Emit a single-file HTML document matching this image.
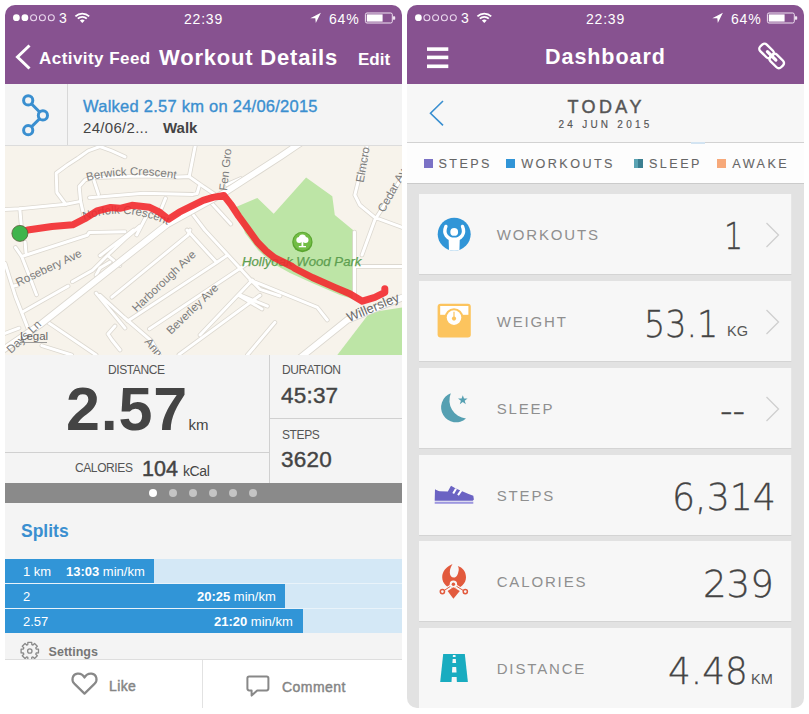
<!DOCTYPE html>
<html><head><meta charset="utf-8">
<style>
*{margin:0;padding:0;box-sizing:border-box}
html,body{width:809px;height:714px;overflow:hidden;background:#fff}
body{position:relative;font-family:"Liberation Sans",Arial,sans-serif}
.a{position:absolute}
.panel{position:absolute;top:5px;width:397px;height:703px;overflow:hidden;border-radius:10px 10px 0 0}
#L{left:5px;background:#fff}
#R{left:407px;background:#e2e2e2;border-radius:10px 10px 10px 10px}
.hdr{position:absolute;left:0;top:0;width:397px;height:79px;background:#875290;color:#fff}
.t{position:absolute;white-space:nowrap;line-height:1}
.w{color:#fff}
.lbl{font-size:12px;color:#555;letter-spacing:-0.4px}
.card{position:absolute;left:12px;width:373px;height:81px;background:#f7f7f7;border-bottom:1px solid #d4d4d4;border-right:1px solid #e6e6e6}
.cl{position:absolute;left:77.7px;top:33.3px;font-size:15px;color:#8f8f8f;letter-spacing:1.85px;line-height:1}
.cv{position:absolute;font-family:"DejaVu Sans",sans-serif;font-weight:200;color:#444;-webkit-text-stroke:0.3px #444;line-height:1;white-space:nowrap;font-size:37.5px;transform-origin:0 0}
.chev{position:absolute;left:346px;top:28px}
.leg{position:absolute;top:152.6px;font-size:12.6px;color:#666;letter-spacing:2.45px;-webkit-text-stroke:0.1px #666;line-height:1;white-space:nowrap}
.sq{position:absolute;top:153.6px;width:9px;height:9px}
</style></head><body>

<!-- ================= LEFT PANEL ================= -->
<div id="L" class="panel">
  <div class="hdr">
    <svg class="a" style="left:0;top:0" width="397" height="30" viewBox="5 5 397 30">
      <g fill="#fff"><circle cx="16.4" cy="17.7" r="3.4"/><circle cx="24.9" cy="17.7" r="3.4"/></g>
      <g fill="none" stroke="#ead8ee" stroke-width="1.05"><circle cx="33.6" cy="17.7" r="3"/><circle cx="42.4" cy="17.7" r="3"/><circle cx="51.3" cy="17.7" r="3"/></g>
      <!-- wifi -->
      <g fill="none" stroke="#fff" stroke-width="1.8">
        <path d="M75.4 16.3 A10 10 0 0 1 89.2 16.3"/>
        <path d="M77.8 18.6 A6.6 6.6 0 0 1 86.8 18.6"/>
      </g>
      <path d="M79.9 20.6 A3.4 3.4 0 0 1 84.7 20.6 L82.3 23 Z" fill="#fff"/>
      <!-- location arrow -->
      <path d="M320.9 12.7 L310.3 18.3 L315.3 18.3 L315.8 23 Z" fill="#fff"/>
      <!-- battery -->
      <rect x="365.4" y="13" width="26.9" height="10" rx="1.6" fill="none" stroke="#f0e4f2" stroke-width="1"/>
      <rect x="366.8" y="14.4" width="15.8" height="7.2" fill="#fff"/>
      <rect x="392.8" y="16.2" width="2.4" height="3.6" rx="0.8" fill="#f0e4f2"/>
    </svg>
    <div class="t w" style="left:54px;top:6.3px;font-size:14px">3</div>
    <div class="t w" style="left:179px;top:6.5px;font-size:14px;letter-spacing:0.8px">22:39</div>
    <div class="t w" style="left:324px;top:6.5px;font-size:14px;letter-spacing:0.8px">64%</div>
    <!-- nav -->
    <svg class="a" style="left:0;top:30px" width="40" height="50" viewBox="5 35 40 50">
      <path d="M29.5 45.5 L17.5 57 L29.5 68.5" fill="none" stroke="#fff" stroke-width="3"/>
    </svg>
    <div class="t w" style="left:34px;top:45px;font-size:17px;font-weight:bold;letter-spacing:0.45px">Activity Feed</div>
    <div class="t w" style="left:154px;top:42px;font-size:22px;font-weight:bold;letter-spacing:0.8px">Workout Details</div>
    <div class="t w" style="left:353px;top:45.5px;font-size:17px;font-weight:bold">Edit</div>
  </div>
  <!-- header row -->
  <div class="a" style="left:0;top:79px;width:397px;height:61px;background:#f4f4f4"></div>
  <div class="a" style="left:62px;top:79px;width:1px;height:61px;background:#d8d8d8"></div>
  <svg class="a" style="left:0;top:79px" width="62" height="61" viewBox="5 84 62 61">
    <g fill="none" stroke="#3a8fd0" stroke-width="3">
      <circle cx="28.2" cy="100.4" r="4.6"/><circle cx="42.9" cy="115.4" r="4.6"/><circle cx="28.2" cy="130.2" r="4.6"/>
      <path d="M31.4 103.8 L39.6 112 M39.6 118.8 L31.4 126.9"/>
    </g>
  </svg>
  <div class="t" style="left:78px;top:93px;font-size:16.5px;color:#3a8fd0;letter-spacing:0.25px;-webkit-text-stroke:0.35px #3a8fd0">Walked 2.57 km on 24/06/2015</div>
  <div class="t" style="left:78px;top:115px;font-size:15px;color:#444;letter-spacing:0.3px">24/06/2...</div>
  <div class="t" style="left:158px;top:115px;font-size:15px;color:#444;font-weight:bold">Walk</div>

  <!-- map -->
  <svg class="a" style="left:0;top:140px" width="397" height="210" viewBox="5 145 397 210">
    <rect x="5" y="145" width="397" height="210" fill="#f7f3eb"/>
    <!-- parks -->
    <g fill="#bde5a6">
      <path d="M236 207 L257.4 197.9 L273.7 213.7 L306.1 177.5 L332.3 196.2 L334.8 214.9 L356 232.4 L356 300 L340 295 L312 283 L290 273 L272 263 L258 250 L245 233 Z"/>
      <path d="M337.3 355 L369.8 312.4 L402 307.4 L402 355 Z"/>
    </g>
    <!-- road outlines -->
    <g fill="none" stroke-linejoin="round" stroke-linecap="round">
      <g stroke="#dcd8d0" stroke-width="4.6">
        <path id="r1" d="M5 209.5 L19.8 208.8 L65.8 204.3 L80.6 201.4"/>
        <path id="r2" d="M65.8 204.3 L56.9 192.5 L56.2 173.2 L67.3 165 L77.7 158.3 L88.1 150.9 L99.9 146.5 L111.8 150.9 L125 156.9"/>
        <path id="r3" d="M80.6 201.4 L79.2 186.5 L85.1 179.9 L94 177.6 L140 176 L178 177.1 L189.2 176.6 L203.1 186.5 L214.9 194.4"/>
        <path id="r4" d="M80.6 201.4 L83.6 214.7 M94 180.6 L98.4 194 M89.5 197.7 L143.4 193.2 L192.9 194.4 L197.1 193.5 L199.1 186.5 M195.2 146 L189.2 176.6 M165.5 198.4 L161.5 208.3 M226.8 184.6 L240.6 178.6 M19.8 208.8 L21.3 225.8 M25.1 242.3 L26 252.8 M15.5 247.5 L21.6 256.3 L27.8 272 L36.5 294.8 M22.5 256.3 L87.3 235.3 L89.1 232.6 L125 231.8 M147 215 L136.7 235 M23.4 311.5 L41.8 301 L68.1 286.1 M72.4 281.7 L92.6 270.3 L108.4 254.5 L125 238.8 L140 226 M13.8 286 L18 285 M5 263.3 L15.5 296.6 L27.8 328.1 L29.5 335.1 M96.1 293.1 L125 328.1 M48.8 322.9 L96.1 355 M41.8 345.6 L71.6 355 M5 333.4 L19 328.1 M100 255.7 L133.6 230 M107.9 255.7 L119.8 265.6 M110 262 L100 268 L96.1 275 M111.9 297.2 L188 235 L190 230 M127.7 321 L216.7 262.6 L226.6 255.7 M149.4 328.9 L238.4 269.6 L250.3 261.6 M179 354.6 L260 295.3 M100 295.3 L123.7 317 L151.4 340.8 L159.3 355 M187 230 L216.7 262.6 M204.8 230 L250.3 279.4 L260 289.3 M238.4 295.3 L262 309 M115 326 L108 334 L112 340 L120 350 M211 202.4 L230.8 224.1 M191.2 212.2 L204.8 230 M367.3 145 L354.8 195 L359.8 205 L374.8 217.4 L402 227.4 M362 255 L374.8 220 L402 177.5 M354.8 266.4 L402 266.4 M354.5 232 L354.5 298 M250 280 L317.3 307.4 L327.3 320 M200 335 L252.4 280 M247.4 355 L274.9 322.4 M240 295 L267.4 306.2 M260 289.3 L280 296"/>
      </g>
      <g stroke="#fff" stroke-width="3">
        <use href="#r1"/><use href="#r2"/><use href="#r3"/><use href="#r4"/>
      </g>
      <g stroke="#dcd8d0" stroke-width="7.5">
        <path id="w1" d="M0 352 L40 324.7 L167.5 224.1 L224.8 192.5 L280 156.9 L302 142"/>
        <path id="w2" d="M299.9 358 L347.3 320 L405 296.5"/>
      </g>
      <g stroke="#fff" stroke-width="5.8"><use href="#w1"/><use href="#w2"/></g>
    </g>
    <!-- labels -->
    <g font-family="Liberation Sans, Arial, sans-serif" font-size="11.5" fill="#7c7c7c">
      <path id="pb" d="M87 181 Q134 170 183 180" fill="none"/><text><textPath href="#pb">Berwick Crescent</textPath></text>
      <text x="18.1" y="286.5" transform="rotate(-25.3 18.1 286.5)">Rosebery Ave</text>
      <text x="136.5" y="312.5" transform="rotate(-43.6 136.5 312.5)">Harborough Ave</text>
      <text x="171" y="335" transform="rotate(-44 171 335)">Beverley Ave</text>
      <text x="11" y="354" transform="rotate(-43 11 354)">Days Ln</text>
      <text x="144" y="342" transform="rotate(50 144 342)">Ann</text>
      <text x="227" y="191" transform="rotate(-84 227 191)">Fen Gro</text>
      <text x="363.5" y="183" transform="rotate(-80 363.5 183)">Elmcro</text>
      <text x="384" y="213" transform="rotate(-61 384 213)">Cedar Av</text>
      <path id="pn" d="M84 220 Q125 205 170 226" fill="none"/><text><textPath href="#pn">Norfolk Crescent</textPath></text>
      <text x="20" y="340.4" font-size="11.5" fill="#666">Legal</text>
      <rect x="20" y="342" width="27" height="0.8" fill="#888"/>
      <text x="349" y="322" transform="rotate(-22.6 349 322)" font-size="13" fill="#6a6a6a">Willersley</text>
      <text x="242" y="265.5" font-size="13.2" font-style="italic" fill="#5e9f50" stroke="#5e9f50" stroke-width="0.25">Hollyoak Wood Park</text>
    </g>
    <!-- park icon -->
    <circle cx="302.4" cy="242" r="10.2" fill="#5aa530"/>
    <circle cx="302.4" cy="241.5" r="9" fill="#72bd45"/>
    <g fill="#fff">
      <circle cx="302.4" cy="238" r="3.6"/><circle cx="299.3" cy="240" r="3"/><circle cx="305.5" cy="240" r="3"/>
      <rect x="301.5" y="240" width="1.8" height="6.5"/>
      <rect x="298.8" y="246" width="7.2" height="1.3"/>
    </g>
    <!-- route -->
    <path d="M20 233 L27.7 230 L51.9 226.5 L72.7 224.8 L84.8 218.7 L96.9 211 L110.7 207.5 L120 208.3 L131.9 205.3 L149.7 207.3 L159.6 212.2 L168.5 219.2 L179.3 212.2 L203.1 200.4 L213 197.4 L223.8 195.4 L230.8 204.3 L238.7 216.2 L248 229 L257.5 242.3 L266 251 L274.8 257.9 L292.1 266.5 L294.9 268.5 L312.4 277.5 L334.8 287.4 L349.8 293.7 L362.3 301.2 L374.8 297.4 L384.8 292.4 L384.8 288.7" fill="none" stroke="#f22a2f" stroke-width="7" stroke-linejoin="round" stroke-linecap="round" opacity="0.9"/>
    <!-- start dot -->
    <circle cx="19.9" cy="233.4" r="8" fill="#3fb44c" stroke="#5a5a3a" stroke-width="0.8"/>
    <rect x="5" y="145" width="397" height="1" fill="#dcdcdc"/>
  </svg>

  <!-- stats -->
  <div class="a" style="left:0;top:350px;width:397px;height:128px;background:#f4f4f4"></div>
  <div class="a" style="left:264px;top:350px;width:1px;height:128px;background:#d0d0d0"></div>
  <div class="a" style="left:0;top:447px;width:264px;height:1px;background:#d0d0d0"></div>
  <div class="a" style="left:265px;top:413px;width:132px;height:1px;background:#d0d0d0"></div>
  <div class="t lbl" style="left:103px;top:359px">DISTANCE</div>
  <div class="t" style="left:61px;top:374px;font-size:61px;font-weight:bold;color:#444;letter-spacing:0.8px">2.57</div>
  <div class="t" style="left:183.5px;top:412px;font-size:15px;color:#444">km</div>
  <div class="t lbl" style="left:70px;top:457px">CALORIES</div>
  <div class="t" style="left:137px;top:453.5px;font-size:21.5px;color:#444;-webkit-text-stroke:0.45px #444">104</div>
  <div class="t" style="left:178px;top:459px;font-size:14px;color:#444;letter-spacing:-0.4px">kCal</div>
  <div class="t lbl" style="left:277px;top:359px">DURATION</div>
  <div class="t" style="left:276px;top:379.5px;font-size:22.5px;color:#444;-webkit-text-stroke:0.4px #444;letter-spacing:0.2px">45:37</div>
  <div class="t lbl" style="left:277px;top:424px">STEPS</div>
  <div class="t" style="left:276px;top:444px;font-size:22.5px;color:#444;-webkit-text-stroke:0.4px #444;letter-spacing:0.2px">3620</div>
  <!-- pager bar -->
  <div class="a" style="left:0;top:478px;width:397px;height:20px;background:#8a8a8a"></div>
  <svg class="a" style="left:0;top:478px" width="397" height="20">
    <circle cx="148" cy="10" r="4" fill="#fff"/>
    <g fill="#c4c4c4"><circle cx="168" cy="10" r="4"/><circle cx="188" cy="10" r="4"/><circle cx="208" cy="10" r="4"/><circle cx="228" cy="10" r="4"/><circle cx="248" cy="10" r="4"/></g>
  </svg>
  <!-- splits -->
  <div class="a" style="left:0;top:498px;width:397px;height:157px;background:#f4f4f4"></div>
  <div class="t" style="left:16px;top:518px;font-size:17.5px;font-weight:bold;color:#3a8fd0">Splits</div>
  <div class="a" style="left:0;top:554px;width:397px;height:73.5px;background:#e9f3fa"></div>
  <div class="a" style="left:0;top:554px;width:397px;height:23.5px;background:#d4e8f6"></div>
  <div class="a" style="left:0;top:578.5px;width:397px;height:24.5px;background:#d4e8f6"></div>
  <div class="a" style="left:0;top:604px;width:397px;height:23.5px;background:#d4e8f6"></div>
  <div class="a" style="left:0;top:554px;width:149px;height:23.5px;background:#3195d7"></div>
  <div class="a" style="left:0;top:578.5px;width:280.3px;height:24.5px;background:#3195d7"></div>
  <div class="a" style="left:0;top:604px;width:297.6px;height:23.5px;background:#3195d7"></div>
  <div class="t" style="left:18px;top:560px;font-size:13px;color:#fff">1 km</div>
  <div class="t" style="left:61px;top:560px;font-size:13px;color:#fff"><b>13:03</b> min/km</div>
  <div class="t" style="left:18px;top:585px;font-size:13px;color:#fff">2</div>
  <div class="t" style="left:192px;top:585px;font-size:13px;color:#fff"><b>20:25</b> min/km</div>
  <div class="t" style="left:18px;top:610px;font-size:13px;color:#fff">2.57</div>
  <div class="t" style="left:209px;top:610px;font-size:13px;color:#fff"><b>21:20</b> min/km</div>
  <svg class="a" style="left:0;top:630px" width="60" height="24" viewBox="0 630 60 24">
    <path d="M31.20 644.02 L33.49 644.06 L33.49 647.94 L31.20 647.98 L30.73 649.13 L32.31 650.77 L29.57 653.51 L27.93 651.93 L26.78 652.40 L26.74 654.69 L22.86 654.69 L22.82 652.40 L21.67 651.93 L20.03 653.51 L17.29 650.77 L18.87 649.13 L18.40 647.98 L16.11 647.94 L16.11 644.06 L18.40 644.02 L18.87 642.87 L17.29 641.23 L20.03 638.49 L21.67 640.07 L22.82 639.60 L22.86 637.31 L26.74 637.31 L26.78 639.60 L27.93 640.07 L29.57 638.49 L32.31 641.23 L30.73 642.87 Z" fill="none" stroke="#8a8a8a" stroke-width="1.3" stroke-linejoin="round"/>
    <circle cx="24.8" cy="646" r="2.2" fill="none" stroke="#8a8a8a" stroke-width="1.3"/>
  </svg>
  <div class="t" style="left:43.6px;top:641px;font-size:12.5px;font-weight:bold;color:#777">Settings</div>
  <div class="a" style="left:0;top:654px;width:397px;height:1px;background:#dedede"></div>
  <div class="a" style="left:0;top:655px;width:397px;height:48px;background:#fff"></div>
  <!-- bottom bar -->
  <div class="a" style="left:197.3px;top:655px;width:1px;height:48px;background:#e2e2e2"></div>
  <svg class="a" style="left:0;top:655px" width="397" height="48" viewBox="0 655 397 48">
    <path d="M79.5 688.6 L69.3 678.6 C66.2 675.4 67 669.4 72.4 668.6 C75.8 668.2 78.3 670.3 79.5 672.6 C80.7 670.3 83.2 668.2 86.6 668.6 C92 669.4 92.8 675.4 89.7 678.6 Z" fill="none" stroke="#888" stroke-width="2.2" stroke-linejoin="round"/>
    <path d="M244.2 671.4 L261.6 671.4 Q263.4 671.4 263.4 673.2 L263.4 683.6 Q263.4 685.4 261.6 685.4 L252.2 685.4 L246.6 690.6 L246.6 685.4 L244.2 685.4 Q242.4 685.4 242.4 683.6 L242.4 673.2 Q242.4 671.4 244.2 671.4 Z" fill="none" stroke="#888" stroke-width="2" stroke-linejoin="round"/>
  </svg>
  <div class="t" style="left:104px;top:674px;font-size:14px;color:#858585;-webkit-text-stroke:0.45px #858585;letter-spacing:0.4px">Like</div>
  <div class="t" style="left:277px;top:675px;font-size:14px;color:#858585;-webkit-text-stroke:0.45px #858585;letter-spacing:0.45px">Comment</div>
</div>

<!-- ================= RIGHT PANEL ================= -->
<div id="R" class="panel">
  <div class="hdr">
    <svg class="a" style="left:0;top:0" width="397" height="79" viewBox="407 5 397 79">
      <circle cx="418.4" cy="17.7" r="3.4" fill="#fff"/>
      <g fill="none" stroke="#ead8ee" stroke-width="1.05"><circle cx="426.9" cy="17.7" r="3"/><circle cx="435.6" cy="17.7" r="3"/><circle cx="444.4" cy="17.7" r="3"/><circle cx="453.3" cy="17.7" r="3"/></g>
      <g fill="none" stroke="#fff" stroke-width="1.8">
        <path d="M477.4 16.3 A10 10 0 0 1 491.2 16.3"/>
        <path d="M479.8 18.6 A6.6 6.6 0 0 1 488.8 18.6"/>
      </g>
      <path d="M481.9 20.6 A3.4 3.4 0 0 1 486.7 20.6 L484.3 23 Z" fill="#fff"/>
      <path d="M722.9 12.7 L712.3 18.3 L717.3 18.3 L717.8 23 Z" fill="#fff"/>
      <rect x="767.4" y="13" width="26.9" height="10" rx="1.6" fill="none" stroke="#f0e4f2" stroke-width="1"/>
      <rect x="768.8" y="14.4" width="15.8" height="7.2" fill="#fff"/>
      <rect x="794.8" y="16.2" width="2.4" height="3.6" rx="0.8" fill="#f0e4f2"/>
      <!-- hamburger -->
      <g fill="#fff"><rect x="427" y="47.3" width="21.3" height="3.6"/><rect x="427" y="55.6" width="21.3" height="3.6"/><rect x="427" y="64.5" width="21.3" height="3.6"/></g>
      <!-- link icon -->
      <g fill="none" stroke="#fff" stroke-width="2.4">
        <rect x="-7.6" y="-4.6" width="15.2" height="9.2" rx="3.2" transform="translate(766.6 50.9) rotate(45)"/>
        <rect x="-7.6" y="-4.6" width="15.2" height="9.2" rx="3.2" transform="translate(776.7 60.9) rotate(45)"/>
      </g>
      <path d="M767.4 51.7 L775.9 60.1" stroke="#fff" stroke-width="3.2" stroke-linecap="round"/>
    </svg>
    <div class="t w" style="left:54px;top:6.3px;font-size:14px">3</div>
    <div class="t w" style="left:179px;top:6.5px;font-size:14px;letter-spacing:0.8px">22:39</div>
    <div class="t w" style="left:324px;top:6.5px;font-size:14px;letter-spacing:0.8px">64%</div>
    <div class="t w" style="left:138px;top:42px;font-size:21.5px;font-weight:bold;letter-spacing:0.95px">Dashboard</div>
  </div>
  <div class="a" style="left:0;top:79px;width:397px;height:59px;background:#f7f7f7;border-bottom:1px solid #d2d2d2"></div>
  <svg class="a" style="left:22px;top:94px" width="20" height="30" viewBox="429 99 20 30">
    <path d="M443 101 L430.5 113.2 L443 125.4" fill="none" stroke="#3a8fd0" stroke-width="1.6"/>
  </svg>
  <div class="t" style="left:160.5px;top:93.2px;font-size:18px;color:#555;letter-spacing:3.4px;-webkit-text-stroke:0.45px #555">TODAY</div>
  <div class="t" style="left:151.5px;top:114.8px;font-size:10px;color:#555;letter-spacing:3.25px;-webkit-text-stroke:0.15px #555">24 JUN 2015</div>
  <div class="a" style="left:0;top:138px;width:397px;height:41px;background:#fdfdfd;border-bottom:1px solid #cbcbcb"></div>
  <div class="a" style="left:284px;top:137px;width:14px;height:1.5px;background:#d3e4f2"></div>
  <div class="sq" style="left:16.6px;background:#7b72c6"></div>
  <div class="leg" style="left:31.4px">STEPS</div>
  <div class="sq" style="left:99.4px;background:#3195d7"></div>
  <div class="leg" style="left:114.2px">WORKOUTS</div>
  <div class="sq" style="left:227px;background:linear-gradient(90deg,#5aa3b3 0 50%,#3b7f91 50%)"></div>
  <div class="leg" style="left:242px">SLEEP</div>
  <div class="sq" style="left:310.4px;background:#f7a97a"></div>
  <div class="leg" style="left:325.3px">AWAKE</div>

  <!-- cards -->
  <div class="card" style="top:189px">
    <svg class="a" style="left:0;top:0" width="373" height="81" viewBox="0 0 373 81">
      <defs><clipPath id="cw"><circle cx="35.2" cy="40.2" r="16.5"/></clipPath></defs>
      <circle cx="35.2" cy="40.2" r="16.5" fill="#3195d7"/>
      <g clip-path="url(#cw)" fill="#fff">
        <circle cx="35.2" cy="37.9" r="3.9"/>
        <path d="M29.6 43.4 L40.8 43.4 L40.3 60 L30.1 60 Z"/>
      </g>
      <path d="M26.9 32.4 C25.6 35.5 25.5 39 27.2 41.5 C28.3 43.2 29.8 44.2 31.5 44.8 M43.5 32.4 C44.8 35.5 44.9 39 43.2 41.5 C42.1 43.2 40.6 44.2 38.9 44.8" fill="none" stroke="#fff" stroke-width="3.4" stroke-linecap="round"/>
    </svg>
    <div class="cl">WORKOUTS</div>
    <div class="cv" style="left:305px;top:23.5px;transform:scaleX(0.8)">1</div>
    <svg class="chev" width="16" height="26" viewBox="0 0 16 26"><path d="M1.5 1 L13.5 13 L1.5 25" fill="none" stroke="#cfcfcf" stroke-width="1.3"/></svg>
  </div>
  <div class="card" style="top:276px">
    <svg class="a" style="left:0;top:0" width="373" height="81" viewBox="0 0 373 81">
      <rect x="18.6" y="22.8" width="33.2" height="33.8" rx="3" fill="#fcc45e"/>
      <rect x="21.2" y="25" width="28.2" height="8.8" fill="#fff"/>
      <circle cx="35" cy="36.6" r="9.4" fill="#fcc45e"/>
      <circle cx="35" cy="36.6" r="7.3" fill="#fff"/>
      <path d="M35 30.8 L35 36.5" stroke="#fcc45e" stroke-width="1.2"/>
      <circle cx="35" cy="37.6" r="2.1" fill="#fcc45e"/>
    </svg>
    <div class="cl">WEIGHT</div>
    <div class="cv" style="left:224.8px;top:25.3px;transform:scaleX(0.89)">53.1</div>
    <div class="t" style="left:308px;top:43.3px;font-size:14.5px;color:#555">KG</div>
    <svg class="chev" width="16" height="26" viewBox="0 0 16 26"><path d="M1.5 1 L13.5 13 L1.5 25" fill="none" stroke="#cfcfcf" stroke-width="1.3"/></svg>
  </div>
  <div class="card" style="top:363px">
    <svg class="a" style="left:0;top:0" width="373" height="81" viewBox="419 368 373 81">
      <path d="M450.8 393.3 A15 15 0 1 0 466 418.6 A18.4 18.4 0 0 1 450.8 393.3 Z" fill="#56a0b2"/>
      <path d="M462.8 395.2 L464 398.6 L467.6 398.6 L464.7 400.8 L465.8 404.2 L462.8 402.1 L459.8 404.2 L460.9 400.8 L458 398.6 L461.6 398.6 Z" fill="#56a0b2"/>
    </svg>
    <div class="cl">SLEEP</div>
    <div class="cv" style="left:301px;top:24.5px;transform:scaleX(0.93)">--</div>
    <svg class="chev" width="16" height="26" viewBox="0 0 16 26"><path d="M1.5 1 L13.5 13 L1.5 25" fill="none" stroke="#cfcfcf" stroke-width="1.3"/></svg>
  </div>
  <div class="card" style="top:450px">
    <svg class="a" style="left:0;top:0" width="373" height="81" viewBox="419 455 373 81">
      <path d="M435 489.3 C437 490.3 438 491 440 491.2 L447.8 491.4 L451 485.8 L455.8 488.6 L468.6 494 L473.3 495.8 L473.9 499.4 L472.7 500.8 L434.7 500.8 Z" fill="#6b63c3"/>
      <path d="M453.2 493.6 L456 488.8 M458 495.2 L461.4 490.4" stroke="#fff" stroke-width="2"/>
      <rect x="434.7" y="501.7" width="38.6" height="2.1" fill="#9d97df"/>
    </svg>
    <div class="cl">STEPS</div>
    <div class="cv" style="left:252.5px;top:23.8px;transform:scaleX(0.968)">6,314</div>
  </div>
  <div class="card" style="top:536px">
    <svg class="a" style="left:0;top:0" width="373" height="81" viewBox="419 541 373 81">
      <path d="M452.5 564 C446 567 442.2 571.5 442.2 577.2 C442.2 583.5 447.5 588.5 454.1 588.5 C460.7 588.5 466 583.5 466 577.2 C466 571.5 462.5 567.5 457.8 566 C459 568 459 570 458.3 572 C457.5 576 455.8 577.5 454 577.5 C451.5 577.5 449.8 575.5 449.8 572.5 C449.8 569 451 566.5 452.5 564 Z" fill="#e25a3d"/>
      <path d="M440.5 593 L453.4 584.4 L466.8 593" fill="none" stroke="#f7f7f7" stroke-width="3"/>
      <path d="M442.2 591.8 L453.4 584.4 L465.5 591.8" fill="none" stroke="#e25a3d" stroke-width="1"/>
      <circle cx="453.4" cy="584.3" r="3.7" fill="#f7f7f7"/>
      <circle cx="453.4" cy="584.3" r="1.7" fill="#e25a3d"/>
      <circle cx="442.4" cy="591.6" r="2.1" fill="#f7f7f7" stroke="#e25a3d" stroke-width="1.5"/>
      <circle cx="465.3" cy="591.6" r="2.1" fill="#f7f7f7" stroke="#e25a3d" stroke-width="1.5"/>
      <path d="M447.6 591 L453.4 587.3 L459.8 591 L453.4 598.8 Z" fill="#e25a3d"/>
    </svg>
    <div class="cl">CALORIES</div>
    <div class="cv" style="left:284px;top:24.6px;transform:scaleX(0.99)">239</div>
  </div>
  <div class="card" style="top:623px">
    <svg class="a" style="left:0;top:0" width="373" height="81" viewBox="419 628 373 81">
      <path d="M443.2 653.9 L464.8 653.9 L467.9 681.9 L440.2 681.9 Z" fill="#19acc0"/>
      <g fill="#f7f7f7">
        <path d="M452.9 655 L455.5 655 L455.6 657 L452.8 657 Z"/>
        <path d="M452.7 658.9 L455.8 658.9 L456.1 663.1 L452.4 663.1 Z"/>
        <path d="M452.3 667 L456.2 667 L456.5 672.4 L452 672.4 Z"/>
        <path d="M451.8 677.1 L456.6 677.1 L456.9 682 L451.5 682 Z"/>
      </g>
    </svg>
    <div class="cl">DISTANCE</div>
    <div class="cv" style="left:248.6px;top:24.5px;transform:scaleX(0.954)">4.48</div>
    <div class="t" style="left:332px;top:44.2px;font-size:14.5px;color:#555">KM</div>
  </div>
</div>

</body></html>
